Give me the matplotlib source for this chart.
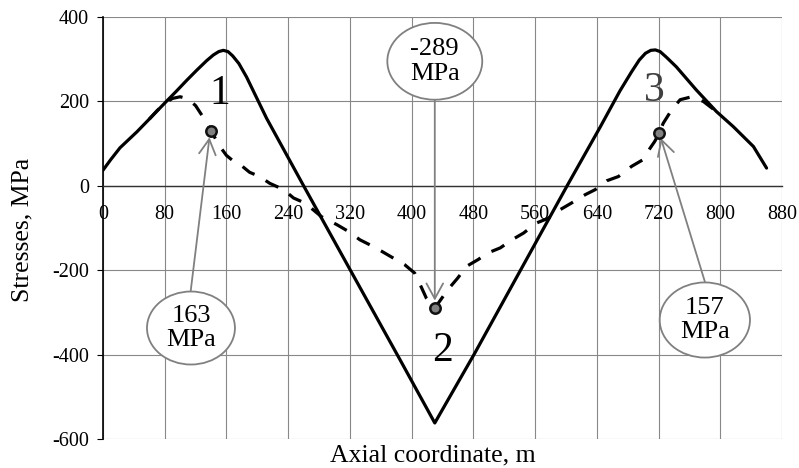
import matplotlib
matplotlib.use("Agg")
import matplotlib.pyplot as plt
from matplotlib.patches import Ellipse

plt.rcParams['font.family'] = ['Liberation Serif', 'DejaVu Serif']
plt.rcParams['axes.unicode_minus'] = False

# ---- data ----
solid_x = [0, 10, 22, 44, 61, 80, 95, 108, 121, 134, 143, 150, 156, 162, 168, 176, 186, 212, 242, 260,
           320, 384, 430, 482, 542, 603, 644, 670, 685, 695, 703, 710, 716, 722, 730, 743, 769, 795,
           817, 843, 860]
solid_y = [37, 62, 90, 128, 160, 196, 224, 249, 273, 296, 310, 318, 321, 318, 308, 290, 258, 160, 60, 0,
           -198, -409, -562, -396, -197, 5, 138, 225, 270, 298, 314, 321, 322, 318, 305, 282, 227, 176,
           140, 93, 42]

dash_x = [60, 70, 82, 90, 100, 110, 120, 130, 140, 150, 160, 170, 180, 190, 203, 216, 234, 247,
          262, 283, 303, 318, 333, 346, 361, 376, 391, 404, 411, 419, 430, 440, 447, 460, 471,
          486, 499, 515, 530, 545, 562, 577, 592, 607, 625, 638, 653, 668, 685, 700, 709, 715,
          721, 726, 737, 748, 763, 778, 795]
dash_y = [158, 178, 198, 207, 211, 206, 190, 162, 131, 97, 72, 57, 47, 32, 22, 6, -9, -29,
          -41, -73, -92, -108, -128, -140, -155, -171, -187, -207, -234, -266, -290, -264, -246,
          -218, -191, -175, -159, -147, -128, -112, -88, -77, -57, -41, -21, -9, 12, 22, 46, 62,
          89, 105, 125, 148, 180, 204, 211, 200, 176]

marker_x = [140, 430, 721]
marker_y = [131, -289, 125]

callout_texts = ["163\nMPa", "-289\nMPa", "157\nMPa"]
callout_center = [(114, -337), (430, 295), (780, -318)]
callout_size = [(114, 173), (123, 182), (117, 178)]
arrow_start = [(113.6, -250), (430, 204), (780, -227)]
arrow_tip = [(138, 115), (430, -272), (723, 113)]

point_labels = ["1", "2", "3"]
point_label_pos = [(151, 218), (440, -392), (715, 226)]
point_label_color = ["black", "black", "#404040"]

x_ticks = list(range(0, 881, 80))
y_ticks = list(range(-600, 401, 200))

# ---- figure ----
fig = plt.figure(figsize=(7.99, 4.68), dpi=100)
ax = fig.add_axes([103/799, 1-439/468, 679/799, 422/468])
ax.set_xlim(0, 880)
ax.set_ylim(-600, 400)
ax.set_xticks(x_ticks)
ax.set_yticks(y_ticks)
ax.grid(True, color='#888888', lw=0.8, zorder=0)
ax.set_axisbelow(True)

for s in ['top', 'right']:
    ax.spines[s].set_visible(False)
ax.spines['bottom'].set_position(('data', 0))
ax.spines['bottom'].set_color('#333333')
ax.spines['bottom'].set_linewidth(1.0)
ax.spines['left'].set_color('black')
ax.spines['left'].set_linewidth(1.2)

ax.tick_params(axis='x', length=0, pad=13.5, labelsize=14.5)
ax.tick_params(axis='y', length=4.5, width=0.8, pad=5.5, labelsize=14.5, direction='out')

ax.plot(solid_x, solid_y, color='black', lw=2.3, solid_capstyle='round',
        solid_joinstyle='round', zorder=3)
ax.plot(dash_x, dash_y, color='black', lw=2.3, linestyle=(0, (4.5, 4.0)),
        dash_capstyle='butt', zorder=3)
ax.plot(marker_x, marker_y, 'o', ms=7.5, mfc='#808080', mec='#111111', mew=1.8, zorder=5)

for txt, c, sz, a0, a1 in zip(callout_texts, callout_center, callout_size, arrow_start, arrow_tip):
    ax.annotate('', xy=a1, xytext=a0,
                arrowprops=dict(arrowstyle='->,head_length=0.55,head_width=0.3', color='#808080',
                                lw=1.3, shrinkA=0, shrinkB=0, mutation_scale=20), zorder=4)
    e = Ellipse(c, sz[0], sz[1], facecolor='white', edgecolor='#808080', lw=1.3, zorder=6)
    ax.add_patch(e)
    ax.text(c[0], c[1], txt, ha='center', va='center', fontsize=19, linespacing=1.15, zorder=7)

for lab, pos, col in zip(point_labels, point_label_pos, point_label_color):
    ax.text(pos[0], pos[1], lab, ha='center', va='center', fontsize=30, color=col, zorder=6)

fig.text(432.5/799, 1-455/468, "Axial coordinate, m", ha='center', va='center', fontsize=18.5)
fig.text(22/799, 1-229.5/468, "Stresses, MPa", ha='center', va='center', rotation=90, fontsize=18.5)

fig.savefig("out.png", dpi=100, facecolor='white')
